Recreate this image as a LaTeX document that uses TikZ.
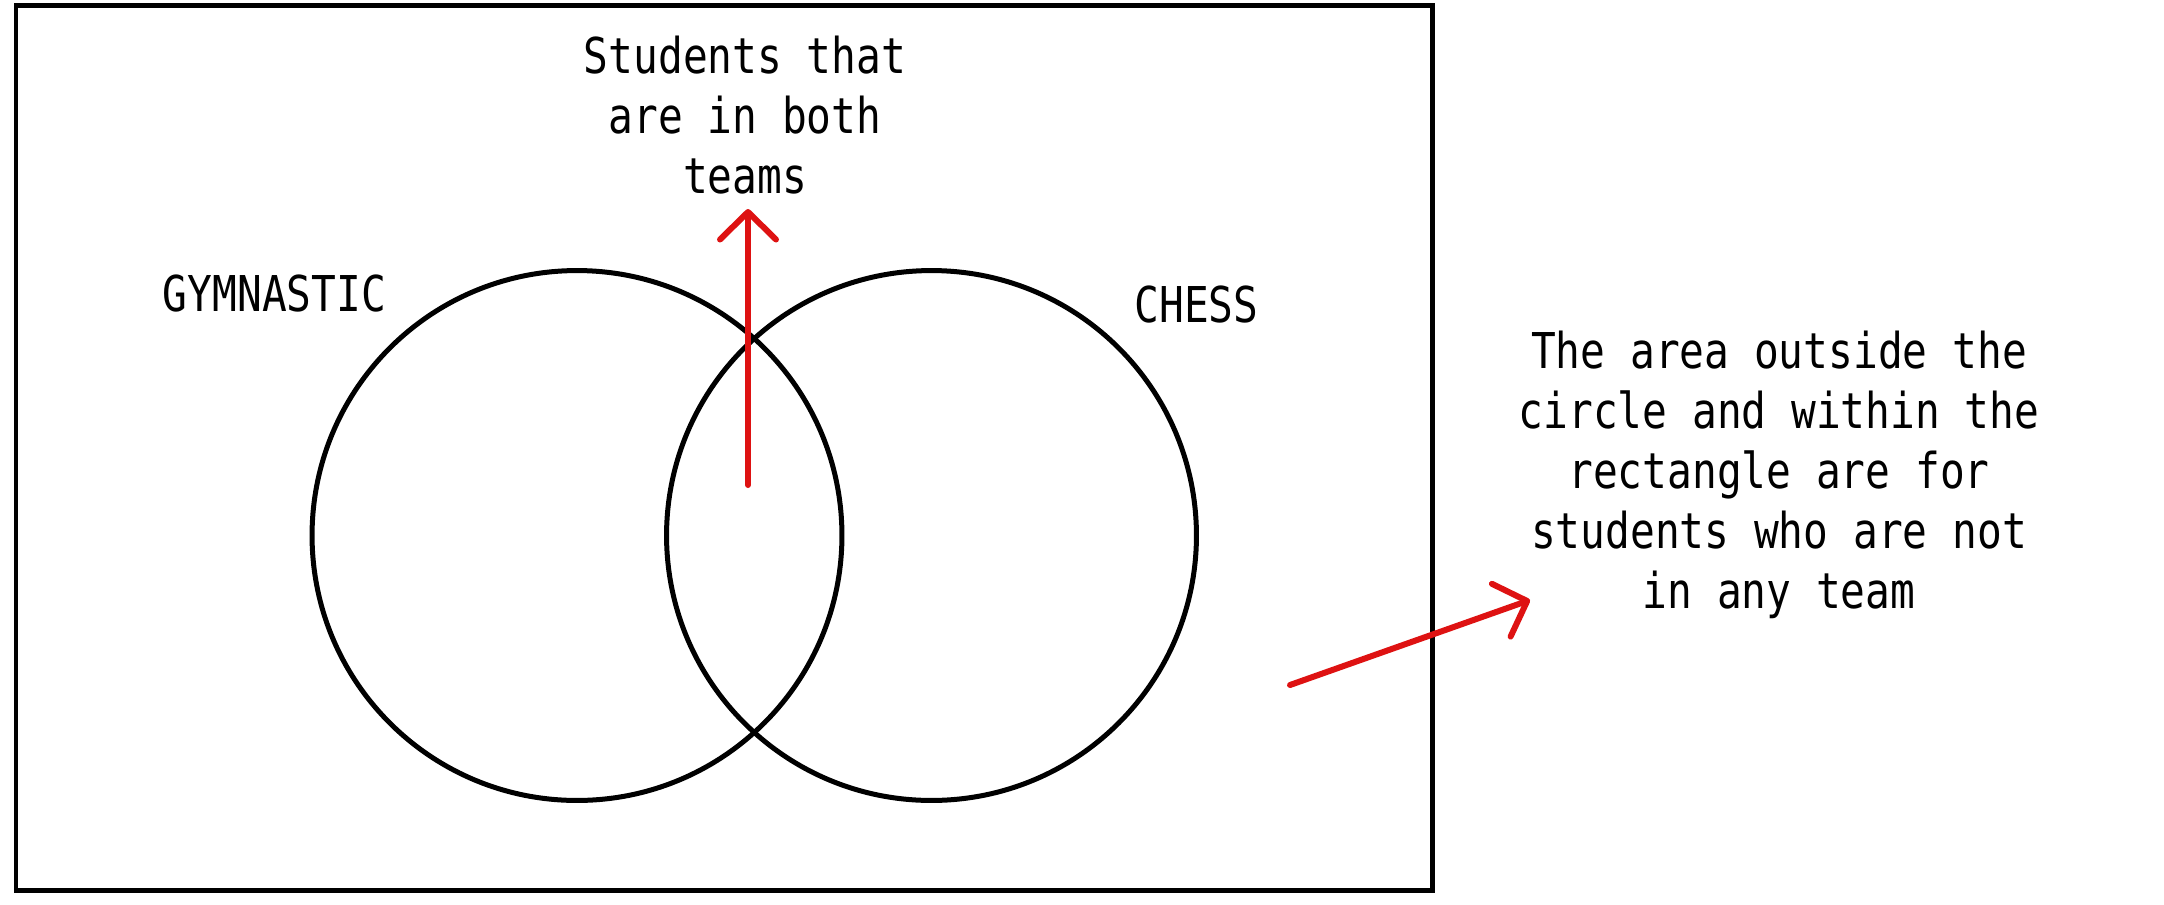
\documentclass[tikz,border=0pt]{standalone}
\usepackage{fontspec}
\usepackage{xcolor}
\setmainfont[FakeStretch=0.834]{DejaVu Sans Mono}
\usetikzlibrary{arrows.meta}
\definecolor{arrowred}{RGB}{222,18,18}

\begin{document}
\begin{tikzpicture}[x=0.02cm, y=-0.02cm]
    \tikzstyle{set} = [circle, draw, line width=0.1cm, minimum size=10.6cm, inner sep=0pt]
    \tikzstyle{label} = [inner sep=0pt, font=\fontsize{28.1pt}{34.1pt}\selectfont]
    \tikzstyle{note} = [inner sep=0pt, align=center, font=\fontsize{28.1pt}{34.1pt}\selectfont]
    \tikzstyle{pointer} = [draw=arrowred, line width=0.12cm, line cap=round,
        -{Straight Barb[length=0.55cm, width=1.12cm, round]}]

    \useasboundingbox (0,0) rectangle (2164,904);

    % Universe
    \draw[line width=0.1cm] (16,5) rectangle (1432.5,890.5);

    % Sets
    \node[set] (gym) at (577,535.5) {};
    \node[set] (chess) at (931.5,535.5) {};
    \node[label, anchor=base] (gymlabel) at (274.5,311) {GYMNASTIC};
    \node[label, anchor=base] (chesslabel) at (1196.5,322) {CHESS};

    % Notes (base = last line)
    \node[note, anchor=base] (both) at (745,193) {Students that\\are in both\\teams};
    \node[note, anchor=base] (outside) at (1779,608) {The area outside the\\circle and within the\\rectangle are for\\students who are not\\in any team};

    % Arrows
    \coordinate (inboth) at (748,485);
    \coordinate (bothtip) at (748,209);
    \coordinate (outer) at (1290,685);
    \coordinate (outertip) at (1530,600);
    \draw[pointer] (inboth) -- (bothtip);
    \draw[pointer] (outer) -- (outertip);
\end{tikzpicture}
\end{document}
